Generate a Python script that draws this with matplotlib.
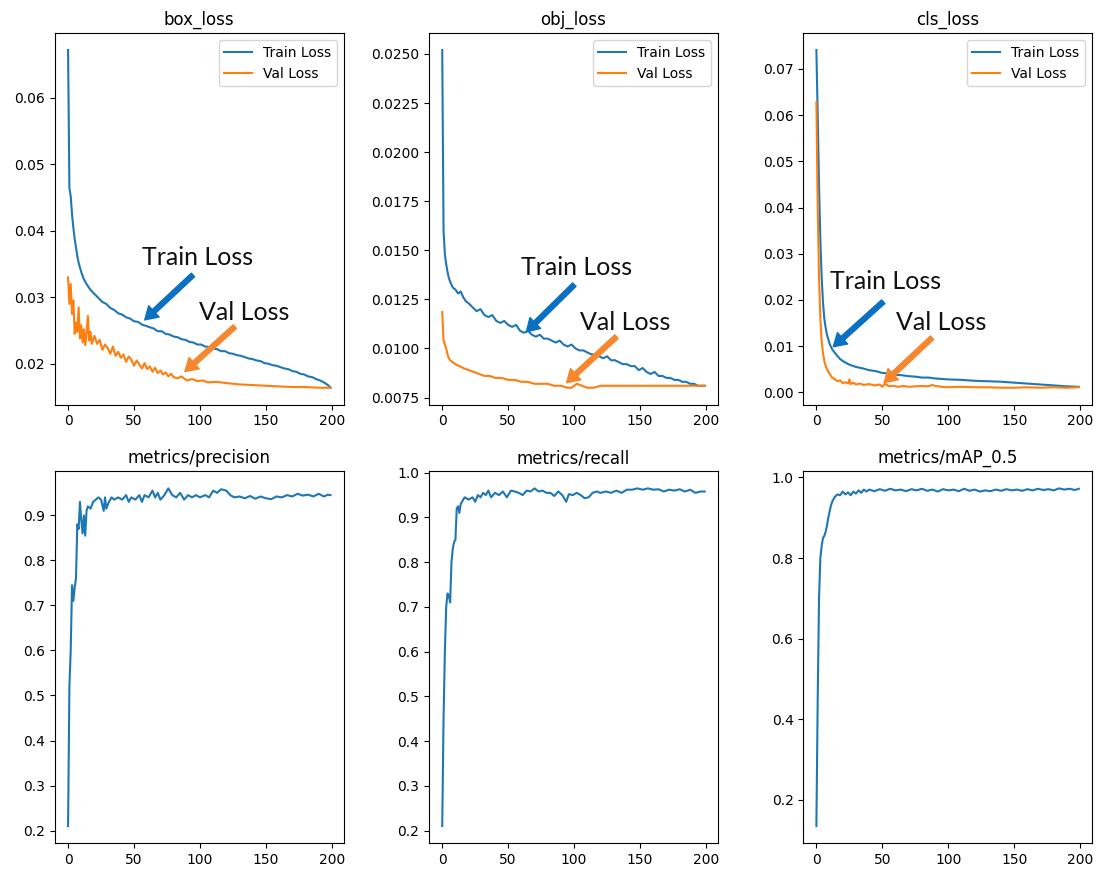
import matplotlib
matplotlib.use('Agg')
import matplotlib.pyplot as plt


# epochs and values

box_train_ep = [0, 1, 2, 3, 4, 5, 6, 7, 8, 10, 12, 14, 16, 18, 20] + list(range(23, 198, 3)) + [199]
box_train = [0.0672, 0.0465, 0.0452, 0.0425, 0.0405, 0.0388, 0.0375, 0.0362, 0.0352,
             0.0338, 0.0327, 0.0320, 0.0314, 0.0309, 0.0305,
             0.0299, 0.0293, 0.0290, 0.0284, 0.0281, 0.0276, 0.0274, 0.0270, 0.0268, 0.0264,
             0.0263, 0.0259, 0.0257, 0.0255, 0.0253, 0.0249, 0.0249, 0.0245, 0.0244, 0.0241,
             0.0240, 0.0237, 0.0236, 0.0233, 0.0232, 0.0229, 0.0229, 0.0226, 0.0225, 0.0223,
             0.0222, 0.0219, 0.0219, 0.0216, 0.0215, 0.0213, 0.0212, 0.0210, 0.0208, 0.0207,
             0.0205, 0.0204, 0.0201, 0.0200, 0.0198, 0.0197, 0.0195, 0.0193, 0.0192, 0.0189,
             0.0188, 0.0185, 0.0184, 0.0181, 0.0180, 0.0177, 0.0175, 0.0172, 0.0168,
             0.0164]

box_val_ep = list(range(0, 19)) + list(range(20, 81, 2)) + [83, 86, 90, 94, 98, 102, 106, 112, 120, 130, 140, 150, 160, 170, 180, 190, 199]
box_val = [0.0330, 0.0290, 0.0320, 0.0275, 0.0295, 0.0245, 0.0262, 0.0248, 0.0285, 0.0238,
           0.0258, 0.0232, 0.0252, 0.0228, 0.0245, 0.0272, 0.0235, 0.0248, 0.0230,
           0.0242, 0.0230, 0.0236, 0.0221, 0.0229, 0.0224, 0.0215, 0.0226, 0.0212, 0.0218,
           0.0209, 0.0214, 0.0203, 0.0211, 0.0206, 0.0197, 0.0205, 0.0199, 0.0193, 0.0201,
           0.0192, 0.0196, 0.0188, 0.0194, 0.0186, 0.0190, 0.0184, 0.0187, 0.0181, 0.0185,
           0.0180,
           0.0178, 0.0181, 0.0175, 0.0177, 0.0174, 0.0175, 0.0172, 0.0173, 0.0171, 0.0169,
           0.0168, 0.0167, 0.0166, 0.0165, 0.0165, 0.0164, 0.0164]

obj_train_ep = [0, 1, 2, 3, 4, 5, 6, 8, 10, 12, 14, 16, 18, 20] + list(range(23, 198, 3)) + [199]
obj_train = [0.0252, 0.0160, 0.0148, 0.0143, 0.0139, 0.0136, 0.0134, 0.0131, 0.0130, 0.0128,
             0.0129, 0.0126, 0.0124, 0.0123,
             0.0121, 0.0119, 0.0120, 0.0117, 0.0116, 0.0117, 0.0114, 0.0113, 0.0114, 0.0112,
             0.0111, 0.0112, 0.0109, 0.0108, 0.0109, 0.0107, 0.0106, 0.0107, 0.0105, 0.0105,
             0.0104, 0.0103, 0.0104, 0.0102, 0.0101, 0.0102, 0.0100, 0.0099, 0.0099, 0.0098,
             0.0097, 0.0097, 0.0096, 0.0095, 0.0096, 0.0094, 0.0094, 0.0093, 0.0092, 0.0092,
             0.0091, 0.0091, 0.0089, 0.0090, 0.0088, 0.0087, 0.0088, 0.0086, 0.0086, 0.0085,
             0.0085, 0.0084, 0.0084, 0.0083, 0.0083, 0.0082, 0.0082, 0.0081, 0.0081,
             0.0081]

obj_val_ep = [0, 1, 2, 3, 4, 5, 6, 8, 10, 13, 16, 20, 24, 28, 32, 36, 40, 45, 50, 55, 60, 65,
              70, 75, 80, 85, 90, 95, 98, 102, 106, 110, 115, 120, 130, 140, 150, 160, 170, 180, 190, 199]
obj_val = [0.01185, 0.0104, 0.0102, 0.0100, 0.0097, 0.0095, 0.0094,
           0.0093, 0.0092, 0.0091, 0.0090, 0.0089,
           0.0088, 0.0087, 0.0086, 0.0086, 0.0085,
           0.0085, 0.0084, 0.0084, 0.0083, 0.0083, 0.0082, 0.0082, 0.0082, 0.0081, 0.0081, 0.0080,
           0.0080, 0.0082, 0.0081, 0.0080, 0.0080, 0.0081,
           0.0081, 0.0081, 0.0081, 0.0081, 0.0081, 0.0081, 0.0081, 0.0081]

cls_train_ep = [0, 1, 2, 3, 4, 5, 6, 7, 8, 10, 12, 15, 18, 21, 25] + list(range(30, 101, 5)) + list(range(110, 191, 10)) + [199]
cls_train = [0.0741, 0.0600, 0.0450, 0.0330, 0.0250, 0.0195, 0.0160, 0.0140, 0.0125,
             0.0105, 0.0093, 0.0082, 0.0072, 0.0066, 0.0060,
             0.0055, 0.0052, 0.0048, 0.0046, 0.0042, 0.0041, 0.0038, 0.0037, 0.0035, 0.0034,
             0.0032, 0.0032, 0.0030, 0.0029, 0.0028,
             0.0027, 0.0025, 0.0024, 0.0023, 0.0021, 0.0019, 0.0017, 0.0015, 0.0013,
             0.0012]

cls_val_ep = [0, 1, 2, 3, 4, 5, 6, 7, 8, 10, 12, 14, 16, 18, 20, 22, 24, 25, 26, 28, 30,
              33, 36, 40, 44, 48, 50, 52, 55, 58, 62, 66, 70, 75, 80, 85, 88, 90, 95, 100,
              110, 120, 130, 140, 150, 160, 170, 180, 190, 199]
cls_val = [0.0628, 0.0400, 0.0250, 0.0160, 0.0110, 0.0085, 0.0068, 0.0058, 0.0050,
           0.0040, 0.0032, 0.0028, 0.0024, 0.0026, 0.0020, 0.0022, 0.0019, 0.0028, 0.0018, 0.0021, 0.0017,
           0.0019, 0.0016, 0.0018, 0.0015, 0.0017, 0.0012, 0.0019, 0.0013, 0.0014, 0.0012,
           0.0014, 0.0012, 0.0013, 0.0014, 0.0013, 0.0016, 0.0014, 0.0012, 0.0011,
           0.0012, 0.0011, 0.0011, 0.0010, 0.0010, 0.0011, 0.0010, 0.0011, 0.0010, 0.0011]

prec_ep = list(range(0, 16)) + [17, 19, 21, 23, 25, 27, 28, 29, 31, 33, 35, 38, 41, 44, 46, 48,
                                 51, 54, 56, 58, 61, 64, 66, 68, 70, 73, 76, 79, 82, 85, 88, 91, 94, 97, 100,
                                 104, 107, 110, 113, 116, 120, 123, 126, 130, 134, 138, 142, 146, 150,
                                 154, 158, 162, 166, 170, 174, 178, 182, 186, 190, 194, 197, 199]
precision = [0.21, 0.52, 0.60, 0.745, 0.71, 0.74, 0.76, 0.88, 0.87, 0.93, 0.89, 0.86, 0.90, 0.855, 0.91, 0.92,
             0.915, 0.93, 0.935, 0.94, 0.935, 0.91, 0.94, 0.915,
             0.93, 0.94, 0.935, 0.94, 0.935, 0.945, 0.93, 0.94,
             0.935, 0.945, 0.93, 0.945, 0.94, 0.955, 0.94, 0.95, 0.935,
             0.945, 0.96, 0.945, 0.94, 0.95, 0.935, 0.945, 0.94, 0.945, 0.94,
             0.945, 0.94, 0.955, 0.95, 0.958, 0.955, 0.945, 0.94, 0.942,
             0.938, 0.943, 0.937, 0.942, 0.938, 0.936, 0.942, 0.94, 0.945, 0.942,
             0.948, 0.944, 0.946, 0.942, 0.948, 0.942, 0.946, 0.945]

rec_ep = list(range(0, 16)) + [17, 20, 23, 25, 27, 29, 31, 33, 35, 37, 40, 43, 46, 49, 52, 55, 58, 61, 64, 67,
                                70, 73, 76, 79, 82, 85, 88, 91, 94, 96, 99, 102, 105, 108, 111, 114, 117, 120,
                                124, 128, 132, 136, 140, 144, 148, 152, 156, 160,
                                164, 168, 172, 176, 180, 184, 188, 192, 196, 199]
recall = [0.21, 0.45, 0.60, 0.70, 0.73, 0.725, 0.71, 0.80, 0.83, 0.845, 0.85, 0.92, 0.925, 0.91, 0.93, 0.935,
          0.945, 0.94, 0.945, 0.935, 0.95, 0.945, 0.955, 0.95, 0.96, 0.945,
          0.955, 0.95, 0.958, 0.945, 0.96, 0.958, 0.955, 0.95, 0.96, 0.958,
          0.965, 0.958, 0.96, 0.955, 0.955, 0.948, 0.958, 0.95, 0.935, 0.952,
          0.95, 0.955, 0.95, 0.943, 0.945, 0.955, 0.958, 0.955,
          0.958, 0.955, 0.96, 0.955, 0.962, 0.962, 0.965, 0.962, 0.965, 0.962,
          0.963, 0.958, 0.962, 0.96, 0.963, 0.958, 0.962, 0.955, 0.958, 0.958]

map_ep = list(range(0, 13)) + list(range(14, 41, 2)) + list(range(44, 197, 4)) + [199]
map50 = [0.135, 0.45, 0.70, 0.80, 0.83, 0.85, 0.855, 0.865, 0.88, 0.90, 0.915, 0.93, 0.94,
         0.952, 0.958, 0.956, 0.965, 0.958, 0.963, 0.956, 0.965, 0.960, 0.968, 0.962, 0.970, 0.965, 0.970,
         0.966, 0.971, 0.967, 0.972, 0.968, 0.970, 0.966, 0.971, 0.968, 0.972,
         0.967, 0.970, 0.965, 0.971, 0.968, 0.970, 0.966, 0.972, 0.967, 0.970,
         0.965, 0.968, 0.966, 0.970, 0.967, 0.971, 0.968, 0.970, 0.967, 0.971,
         0.968, 0.972, 0.969, 0.971, 0.968, 0.973, 0.970, 0.972, 0.969,
         0.972]

loss_titles = ['box_loss', 'obj_loss', 'cls_loss']
metric_titles = ['metrics/precision', 'metrics/recall', 'metrics/mAP_0.5']

blue_arrow = '#0a70c2'
orange_arrow = '#f7872f'


fig, axes = plt.subplots(2, 3, figsize=(10.99, 8.72), dpi=100)
plt.subplots_adjust(left=0.050, right=0.9936, top=0.962, bottom=0.0333, wspace=0.296, hspace=0.180)

loss_data = [(box_train_ep, box_train, box_val_ep, box_val),
             (obj_train_ep, obj_train, obj_val_ep, obj_val),
             (cls_train_ep, cls_train, cls_val_ep, cls_val)]

# annotation spots in axes fraction: text (x, y), arrow tail, arrow head
notes = [
    [((0.301, 0.395), (0.478, 0.349), (0.311, 0.228)), ((0.498, 0.247), (0.623, 0.210), (0.450, 0.089))],
    [((0.319, 0.368), (0.503, 0.323), (0.337, 0.196)), ((0.521, 0.220), (0.649, 0.183), (0.476, 0.059))],
    [((0.093, 0.331), (0.277, 0.277), (0.104, 0.156)), ((0.322, 0.220), (0.446, 0.180), (0.280, 0.059))],
]

for i in range(3):
    ax = axes[0, i]
    tr_ep, tr, va_ep, va = loss_data[i]
    ax.plot(tr_ep, tr, label='Train Loss')
    ax.plot(va_ep, va, label='Val Loss')
    ax.set_title(loss_titles[i])
    ax.legend(loc='upper right')
    for (txt_pos, tail, head), label, col in zip(notes[i], ['Train Loss', 'Val Loss'], [blue_arrow, orange_arrow]):
        ax.text(txt_pos[0], txt_pos[1], label, transform=ax.transAxes, family='Lato', fontsize=18,
                ha='left', va='center', color='#111111')
        ax.annotate('', xy=head, xytext=tail, xycoords='axes fraction', textcoords='axes fraction',
                    arrowprops=dict(facecolor=col, edgecolor=col, width=3.5, headwidth=11, headlength=9, shrink=0))

metric_data = [(prec_ep, precision), (rec_ep, recall), (map_ep, map50)]
for i in range(3):
    ax = axes[1, i]
    ep, vals = metric_data[i]
    ax.plot(ep, vals)
    ax.set_title(metric_titles[i])

plt.savefig('out.png', dpi=100)
